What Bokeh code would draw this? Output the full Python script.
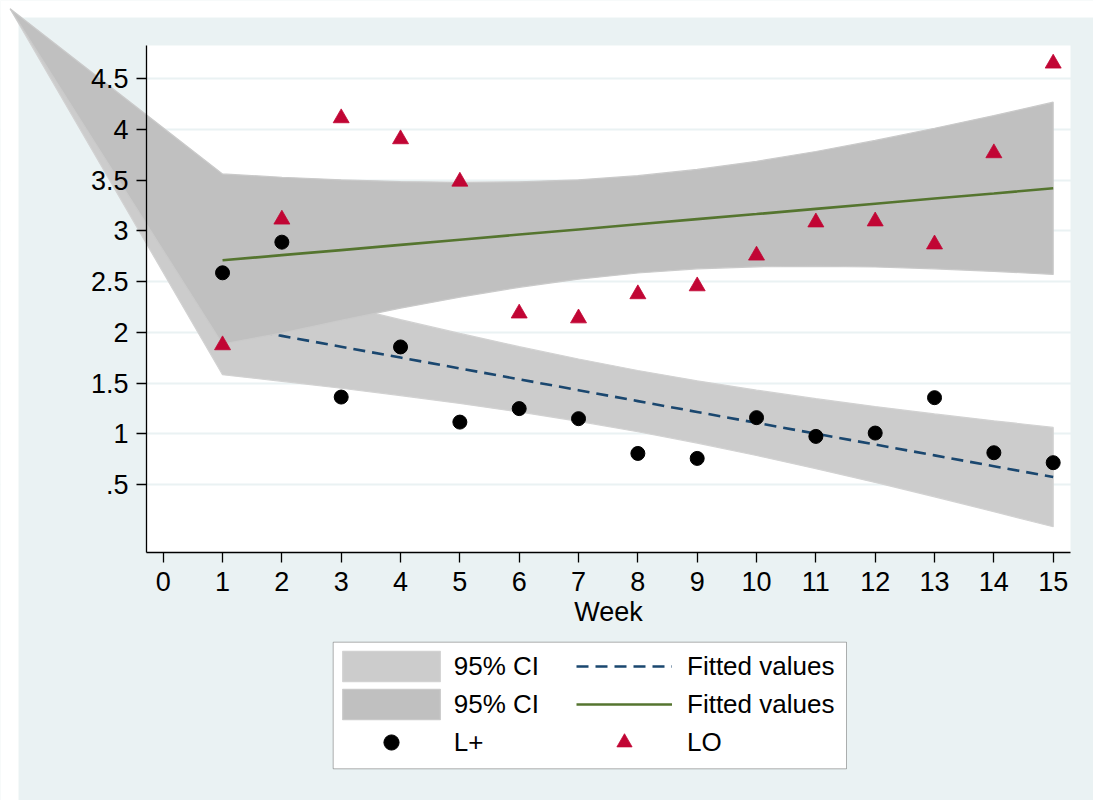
from bokeh.plotting import figure
from bokeh.models import (FixedTicker, Legend, LegendItem, BoxAnnotation,
                          Range1d)
from bokeh.embed import file_html
from bokeh.resources import INLINE

# ---------------- data ----------------
weeks = [1, 2, 3, 4, 5, 6, 7, 8, 9, 10, 11, 12, 13, 14, 15]

l_plus = [2.587, 2.889, 1.362, 1.856, 1.115, 1.248, 1.149, 0.806, 0.757,
          1.159, 0.974, 1.007, 1.356, 0.813, 0.715]
l_o = [1.874, 3.113, 4.112, 3.905, 3.487, 2.187, 2.139, 2.377, 2.455,
       2.758, 3.085, 3.095, 2.868, 3.767, 4.651]

fit_lplus = [2.072, 1.965, 1.858, 1.751, 1.644, 1.537, 1.430, 1.322, 1.215,
             1.108, 1.001, 0.894, 0.787, 0.680, 0.573]
ci_lplus_upper = [2.562, 2.413, 2.267, 2.125, 1.989, 1.859, 1.737, 1.624,
                  1.522, 1.430, 1.346, 1.268, 1.196, 1.128, 1.063]
ci_lplus_lower = [1.582, 1.517, 1.449, 1.377, 1.299, 1.215, 1.123, 1.020,
                  0.908, 0.786, 0.656, 0.520, 0.378, 0.232, 0.083]

fit_lo = [2.710, 2.761, 2.811, 2.862, 2.913, 2.964, 3.014, 3.065, 3.116,
          3.166, 3.217, 3.268, 3.319, 3.369, 3.420]
ci_lo_upper = [3.562, 3.529, 3.504, 3.486, 3.479, 3.484, 3.504, 3.545,
               3.606, 3.686, 3.783, 3.892, 4.012, 4.137, 4.269]
ci_lo_lower = [1.885, 1.993, 2.118, 2.238, 2.347, 2.444, 2.524, 2.585,
               2.626, 2.646, 2.651, 2.644, 2.626, 2.601, 2.571]

# stray vertex of the CI areas (drawn off the plot region in the original)
ci_stray_x = -2.58
ci_stray_y = 5.19

x_ticks = [0, 1, 2, 3, 4, 5, 6, 7, 8, 9, 10, 11, 12, 13, 14, 15]
x_tick_labels = ["0", "1", "2", "3", "4", "5", "6", "7", "8", "9", "10",
                 "11", "12", "13", "14", "15"]
y_ticks = [0.5, 1, 1.5, 2, 2.5, 3, 3.5, 4, 4.5]
y_tick_labels = [".5", "1", "1.5", "2", "2.5", "3", "3.5", "4", "4.5"]

legend_labels_left = ["95% CI", "95% CI", "L+"]
legend_labels_right = ["Fitted values", "Fitted values", "LO"]

# ---------------- layout / styles ----------------
BG = "#EAF2F3"
LIGHT_CI = "#CCCCCC"
DARK_CI = "#C0C0C0"
NAVY = "#1A476F"
GREEN = "#55752F"
RED = "#C10534"
FONT = "Liberation Sans"

W, H = 1093, 800
# pixel geometry of the reference (page pixels)
PX_X0, PX_PER_X = 162.7, 59.333     # x = 0 position, pixels per week
PX_Y0, PX_PER_Y = 534.7, 101.43     # y = 0 position, pixels per unit
REG_L, REG_R, REG_T, REG_B = 146, 1070, 45, 551.7   # plot region
LEG_L, LEG_R, LEG_T, LEG_B = 332.7, 846, 641.7, 768.3  # legend box


def dx(px):
    return (px - PX_X0) / PX_PER_X


def dy(py):
    return (PX_Y0 - py) / PX_PER_Y


p = figure(width=W, height=H, output_backend="svg", toolbar_location=None,
           x_range=Range1d(dx(0), dx(W)), y_range=Range1d(dy(H), dy(0)),
           min_border=0, min_border_left=0, min_border_right=0,
           min_border_top=0, min_border_bottom=0)
p.background_fill_color = BG
p.border_fill_color = BG
p.outline_line_color = None

# grid
p.xgrid.visible = False
p.ygrid.ticker = FixedTicker(ticks=y_ticks)
p.ygrid.grid_line_color = BG
p.ygrid.grid_line_width = 2

# white plot region (below the grid) and white page strips (above it)
p.add_layout(BoxAnnotation(left=dx(REG_L), right=dx(REG_R),
                           top=dy(REG_T), bottom=dy(REG_B),
                           fill_color="white", fill_alpha=1,
                           line_color=None, level="image"))
for (l, r, t, b) in [(0, 18, 0, H), (0, W, 0, 17)]:
    p.add_layout(BoxAnnotation(left=l, right=r, top=t, bottom=b,
                               left_units="canvas", right_units="canvas",
                               top_units="canvas", bottom_units="canvas",
                               fill_color="white", fill_alpha=1,
                               line_color=None, level="underlay"))

# bands and lines
xs_band = weeks + weeks[::-1] + [ci_stray_x]
r_ci1 = p.patch(xs_band, ci_lplus_upper + ci_lplus_lower[::-1] + [ci_stray_y],
                fill_color=LIGHT_CI, line_color="#D2D2D2", line_width=1.2)
r_fit1 = p.line(weeks, fit_lplus, line_color=NAVY, line_width=2.6,
                line_dash="12 7")
r_ci2 = p.patch(xs_band, ci_lo_upper + ci_lo_lower[::-1] + [ci_stray_y],
                fill_color=DARK_CI, line_color="#CACACA", line_width=1.2)
r_fit2 = p.line(weeks, fit_lo, line_color=GREEN, line_width=2.6)
r_lp = p.scatter(weeks, l_plus, marker="circle", size=14,
                 fill_color="black", line_color="black")
r_lo = p.scatter(weeks, l_o, marker="triangle", size=16,
                 fill_color=RED, line_color=RED, line_width=0.8)

# axes, drawn at the edges of the plot region
p.xaxis.fixed_location = dy(REG_B)
p.xaxis.bounds = (dx(REG_L), dx(REG_R))
p.yaxis.fixed_location = dx(REG_L)
p.yaxis.bounds = (dy(REG_B), dy(REG_T))
p.xaxis.ticker = FixedTicker(ticks=x_ticks)
p.xaxis.major_label_overrides = dict(zip(x_ticks, x_tick_labels))
p.yaxis.ticker = FixedTicker(ticks=y_ticks)
p.yaxis.major_label_overrides = dict(zip(y_ticks, y_tick_labels))
p.xaxis.axis_label = "Week"
for ax in (p.xaxis, p.yaxis):
    ax.axis_line_color = "black"
    ax.axis_line_width = 1.3
    ax.major_tick_line_color = "black"
    ax.major_tick_line_width = 1.3
    ax.major_tick_out = 10
    ax.major_tick_in = 0
    ax.minor_tick_line_color = None
    ax.major_label_text_font = FONT
    ax.major_label_text_font_size = "27px"
    ax.major_label_text_color = "black"
    ax.major_label_standoff = 8
    ax.axis_label_text_font = FONT
    ax.axis_label_text_font_size = "27px"
    ax.axis_label_text_font_style = "normal"
    ax.axis_label_text_color = "black"
p.xaxis.major_label_standoff = 10
p.xaxis.axis_label_standoff = 2

# legend: one framed box holding two columns of entries
p.add_layout(BoxAnnotation(left=LEG_L, right=LEG_R, top=LEG_T, bottom=LEG_B,
                           left_units="canvas", right_units="canvas",
                           top_units="canvas", bottom_units="canvas",
                           fill_color="white", fill_alpha=1,
                           line_color="black", line_width=1,
                           level="annotation"))

ROW_H = 38
leg_bottom = H - (LEG_T + 5.5 + 3 * ROW_H)
common = dict(orientation="vertical", border_line_color=None,
              background_fill_alpha=0, padding=0, margin=0,
              spacing=0, glyph_height=ROW_H,
              label_text_font=FONT, label_text_font_size="26px",
              label_text_color="black", label_text_baseline="middle")
legend_left = Legend(
    items=[LegendItem(label=lab, renderers=[r])
           for lab, r in zip(legend_labels_left, [r_ci1, r_ci2, r_lp])],
    location=(329.8, leg_bottom), glyph_width=122,
    label_standoff=2, **common)
legend_right = Legend(
    items=[LegendItem(label=lab, renderers=[r])
           for lab, r in zip(legend_labels_right, [r_fit1, r_fit2, r_lo])],
    location=(576, leg_bottom), glyph_width=96, label_standoff=15,
    **common)
p.add_layout(legend_left, "center")
p.add_layout(legend_right, "center")

open("out.html", "w").write(file_html(p, INLINE))
